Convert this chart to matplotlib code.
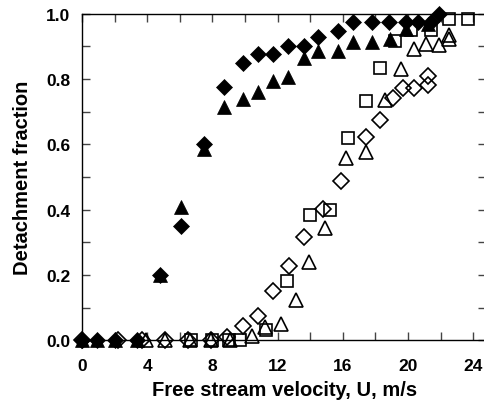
import matplotlib
matplotlib.use("Agg")
import matplotlib.pyplot as plt
from matplotlib.ticker import MultipleLocator, FormatStrFormatter

plt.rcParams['font.family'] = ['Liberation Sans', 'DejaVu Sans']
plt.rcParams['font.weight'] = 'bold'

# Filled diamonds
fd_x = [0.0, 0.9, 2.0, 3.4, 4.8, 6.1, 7.5, 8.7, 9.9, 10.8, 11.7, 12.65, 13.6, 14.5, 15.7, 16.6, 17.8, 18.85, 19.9, 20.6, 21.4, 21.9]
fd_y = [0.0, 0.0, 0.0, 0.0, 0.20, 0.35, 0.60, 0.775, 0.85, 0.876, 0.876, 0.90, 0.902, 0.928, 0.948, 0.976, 0.976, 0.976, 0.976, 0.976, 0.976, 1.0]
# Filled triangles
ft_x = [0.0, 0.9, 2.0, 3.4, 4.8, 6.1, 7.5, 8.7, 9.9, 10.8, 11.7, 12.65, 13.6, 14.5, 15.7, 16.6, 17.8, 18.9, 19.9, 21.2]
ft_y = [0.0, 0.0, 0.0, 0.0, 0.20, 0.407, 0.586, 0.713, 0.739, 0.759, 0.795, 0.805, 0.863, 0.886, 0.886, 0.912, 0.912, 0.922, 0.953, 0.968]
# Open squares
os_x = [6.7, 8.0, 9.0, 9.7, 11.3, 12.6, 14.0, 15.2, 16.35, 17.4, 18.3, 19.2, 20.2, 21.4, 22.5, 23.7]
os_y = [0.0, 0.0, 0.0, 0.0, 0.032, 0.182, 0.383, 0.40, 0.618, 0.733, 0.834, 0.917, 0.95, 0.95, 0.983, 0.983]
# Open diamonds
od_x = [0.0, 2.2, 3.7, 5.1, 6.5, 7.9, 8.9, 9.9, 10.8, 11.7, 12.7, 13.65, 14.8, 15.9, 17.4, 18.3, 19.1, 19.7, 20.4, 21.25, 21.25]
od_y = [0.0, 0.0, 0.0, 0.0, 0.0, 0.0, 0.01, 0.045, 0.075, 0.152, 0.228, 0.315, 0.402, 0.489, 0.621, 0.675, 0.741, 0.771, 0.771, 0.781, 0.808]
# Open triangles
ot_x = [3.9, 5.1, 6.6, 7.9, 9.1, 10.4, 11.2, 12.2, 13.1, 13.9, 14.9, 16.2, 17.4, 18.6, 19.55, 20.4, 21.1, 21.9, 22.5, 22.5]
ot_y = [0.0, 0.0, 0.0, 0.0, 0.0, 0.014, 0.04, 0.05, 0.124, 0.24, 0.343, 0.557, 0.577, 0.737, 0.83, 0.892, 0.907, 0.904, 0.935, 0.924]

fig = plt.figure(figsize=(4.85, 4.06), dpi=100)
ax = fig.add_axes([82/485, 1 - 341.3/406, 404.2/485, (341.3 - 14.7)/406])

mk = dict(linestyle='none', clip_on=False, markeredgecolor='black')
ax.plot(os_x, os_y, marker='s', markersize=9, markerfacecolor='none', markeredgewidth=1.2, **mk)
ax.plot(od_x, od_y, marker='D', markersize=7.8, markerfacecolor='none', markeredgewidth=1.2, **mk)
ax.plot(ot_x, ot_y, marker='^', markersize=10, markerfacecolor='none', markeredgewidth=1.2, **mk)
ax.plot(fd_x, fd_y, marker='D', markersize=7.8, markerfacecolor='black', markeredgewidth=0.5, **mk)
ax.plot(ft_x, ft_y, marker='^', markersize=10, markerfacecolor='black', markeredgewidth=0.5, **mk)

ax.set_xlim(0, 24.8)
ax.set_ylim(0, 1.0)
ax.xaxis.set_major_locator(MultipleLocator(4))
ax.xaxis.set_minor_locator(MultipleLocator(2))
ax.yaxis.set_major_locator(MultipleLocator(0.2))
ax.yaxis.set_minor_locator(MultipleLocator(0.1))
ax.yaxis.set_major_formatter(FormatStrFormatter('%.1f'))

ax.tick_params(which='both', direction='in', top=True, right=True, length=6, width=1, color='#444444')
ax.tick_params(axis='y', which='major', pad=8.5, labelsize=12.5)
ax.tick_params(axis='x', which='major', pad=13, labelsize=12.5)
for lab in ax.get_xticklabels() + ax.get_yticklabels():
    lab.set_fontweight('bold')
for s in ax.spines.values():
    s.set_linewidth(1.0)

ax.set_xlabel('Free stream velocity, U, m/s', fontsize=14.5, fontweight='bold', labelpad=5)
ax.set_ylabel('Detachment fraction', fontsize=14.5, fontweight='bold', labelpad=10)

fig.savefig('out.png', dpi=100)
